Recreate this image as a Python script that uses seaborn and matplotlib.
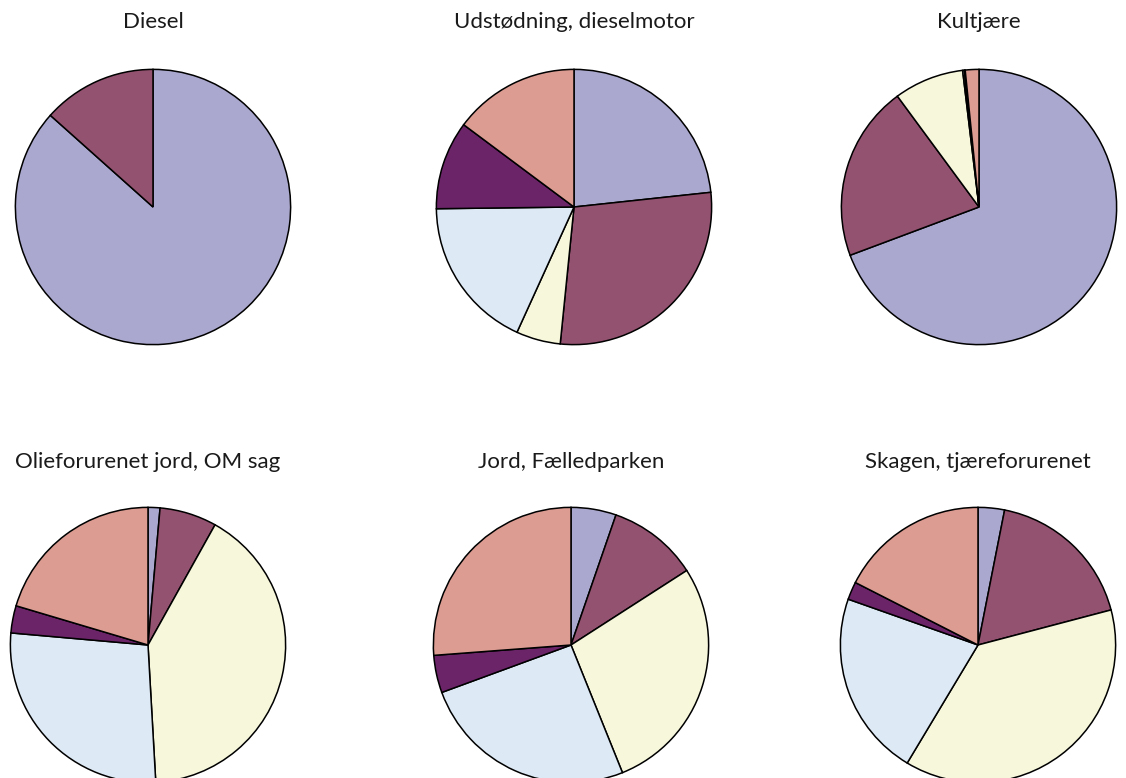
import matplotlib
matplotlib.use("Agg")
import matplotlib.pyplot as plt
import seaborn as sns

# Share of each component per sample (percent), read clockwise from 12 o'clock
titles = ["Diesel", "Udstødning, dieselmotor", "Kultjære",
          "Olieforurenet jord, OM sag", "Jord, Fælledparken", "Skagen, tjæreforurenet"]
diesel = [86.6, 13.4, 0.0, 0.0, 0.0, 0.0]
udstodning = [23.3, 28.3, 5.2, 18.0, 10.4, 14.8]
kultjaere = [69.3, 20.6, 8.2, 0.2, 0.1, 1.6]
olie_jord = [1.4, 6.7, 41.0, 27.3, 3.2, 20.4]
faelledparken = [5.3, 10.6, 28.0, 25.5, 4.4, 26.2]
skagen = [3.1, 17.8, 37.7, 21.8, 2.1, 17.5]
samples = [diesel, udstodning, kultjaere, olie_jord, faelledparken, skagen]

colors = sns.color_palette(["#AAA8CE", "#93526F", "#F7F7DC", "#DDEAF5", "#6B2468", "#DC9C92"])

sns.set_theme(style="white")
plt.rcParams['font.family'] = ['Lato', 'DejaVu Sans']

W, H = 1126, 778
fig = plt.figure(figsize=(W / 100, H / 100), dpi=100)

centers = [(153, 207), (574, 207), (979, 207), (148, 645), (571, 645), (978, 645)]
title_y = [22, 22, 22, 462, 462, 462]
r = 139

for i, (title, vals) in enumerate(zip(titles, samples)):
    cx, cy = centers[i]
    ax = fig.add_axes([(cx - r) / W, (H - cy - r) / H, 2 * r / W, 2 * r / H])
    # drop empty wedges so they don't leave stray edge lines
    vals_nz = [v for v in vals if v > 0]
    cols_nz = [c for v, c in zip(vals, colors) if v > 0]
    ax.pie(vals_nz, colors=cols_nz, startangle=90, counterclock=False, radius=1,
           wedgeprops=dict(edgecolor="black", linewidth=1.1))
    ax.set_xlim(-1.01, 1.01)
    ax.set_ylim(-1.01, 1.01)
    ax.set_aspect("equal")
    ax.axis("off")
    fig.text(cx / W, 1 - title_y[i] / H, title,
             ha="center", va="center", fontsize=16, color="#1a1a1a")

fig.savefig("out.png", dpi=100)
